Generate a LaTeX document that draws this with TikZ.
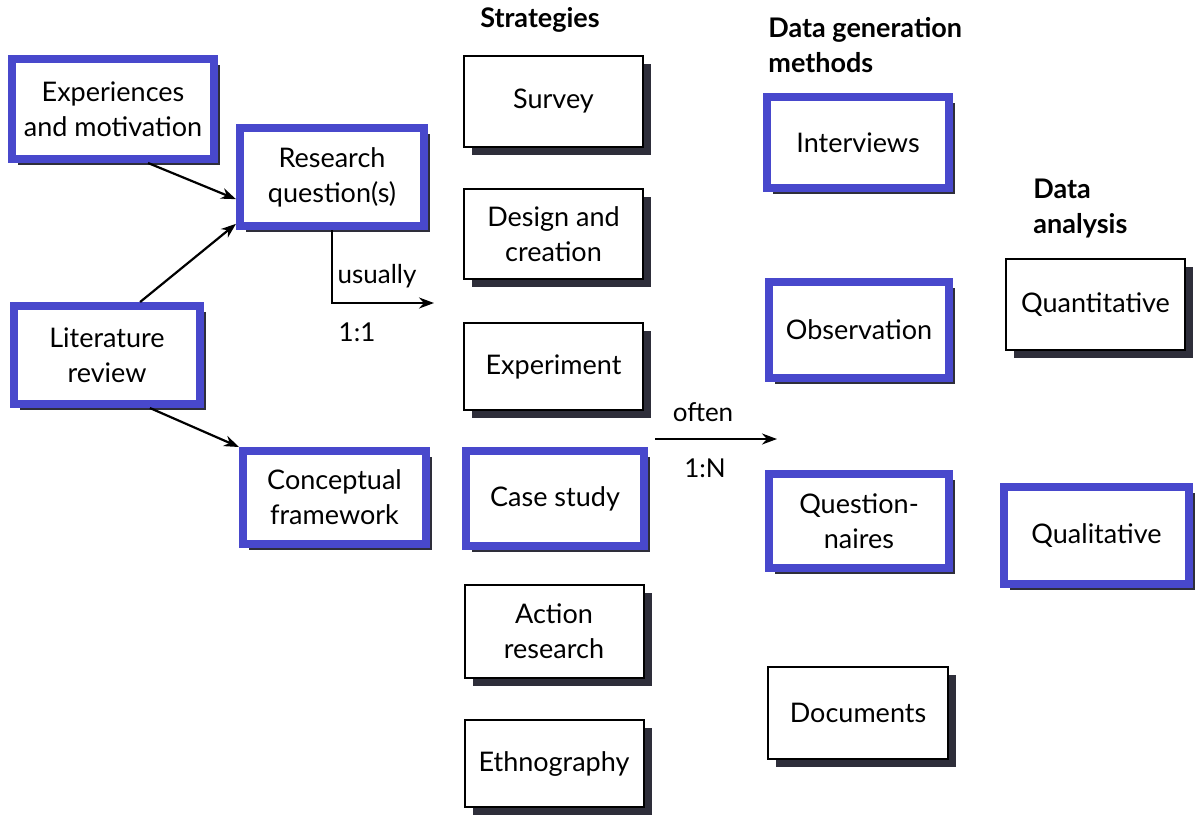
\documentclass[tikz,border=0pt]{standalone}
\usepackage{fontspec}
\setmainfont{Lato}
\usetikzlibrary{shadows,arrows.meta}
\definecolor{bbl}{RGB}{72,72,204}
\definecolor{shd}{RGB}{46,46,58}
\tikzset{
  txt/.style={font=\fontsize{13.5}{17.5}\selectfont, align=center, inner sep=0pt},
  bluebox/.style={txt, rectangle, draw=bbl, line width=4pt, fill=white,
    drop shadow={shadow xshift=3pt, shadow yshift=-3pt, fill=shd, opacity=1}},
  blackbox/.style={txt, rectangle, draw=black, line width=1pt, fill=white,
    drop shadow={shadow xshift=4pt, shadow yshift=-4pt, fill=shd, opacity=1}},
  head/.style={font=\fontsize{13.5}{17.5}\selectfont\bfseries, inner sep=0pt},
  lab/.style={font=\fontsize{13}{15}\selectfont, inner sep=0pt},
  arr/.style={line width=1.1pt, -{Stealth[length=7.5pt,width=5.5pt]}}
}
\begin{document}
\begin{tikzpicture}[x=0.5pt,y=-0.5pt]
\useasboundingbox[fill=white] (0,0) rectangle (1197,816);
% left column
\node[bluebox, minimum width=101pt, minimum height=50pt] (exp) at (113,109) {Experiences\\and motivation};
\node[bluebox, minimum width=92pt, minimum height=49pt] (rq) at (332,177) {Research\\question(s)};
\node[bluebox, minimum width=93pt, minimum height=49pt] (lit) at (107,355) {Literature\\review};
\node[bluebox, minimum width=91.5pt, minimum height=46.5pt] (cf) at (334.5,497.5) {Conceptual\\framework};
% strategies
\node[head] (hstr) at (540,20) {Strategies};
\node[blackbox, minimum width=89.5pt, minimum height=45.5pt] (survey) at (553.5,101.5) {Survey};
\node[blackbox, minimum width=89.5pt, minimum height=45pt] (design) at (553.5,234) {Design and\\creation};
\node[blackbox, minimum width=89.5pt, minimum height=43.5pt] (exper) at (553.5,366.5) {Experiment};
\node[bluebox, minimum width=89pt, minimum height=47.5pt] (case) at (555,498.5) {Case study};
\node[blackbox, minimum width=89.5pt, minimum height=46.5pt] (action) at (554,631.5) {Action\\research};
\node[blackbox, minimum width=89.5pt, minimum height=43.5pt] (ethno) at (554,763.5) {Ethnography};
% data generation methods
\node[head, anchor=west, align=left] (hdg) at (768,45) {Data generation\\methods};
\node[bluebox, minimum width=91pt, minimum height=45.5pt] (int) at (858,142.5) {Interviews};
\node[bluebox, minimum width=90pt, minimum height=48pt] (obs) at (859,330) {Observation};
\node[bluebox, minimum width=90pt, minimum height=47pt] (que) at (859,521) {Question-\\naires};
\node[blackbox, minimum width=90pt, minimum height=46pt] (docs) at (858,713) {Documents};
% data analysis
\node[head, anchor=west, align=left] (hda) at (1033,208) {Data\\analysis};
\node[blackbox, minimum width=89.5pt, minimum height=45.5pt] (quant) at (1095.5,304.5) {Quantitative};
\node[bluebox, minimum width=92.5pt, minimum height=48.5pt] (qual) at (1096.5,535.5) {Qualitative};
% connectors
\draw[arr] (exp.-57) -- (rq.193.5);
\draw[arr] (lit.58) -- (rq.206.6);
\draw[arr] (lit.-51) -- (cf.north west);
\coordinate (u) at (434,303);
\draw[arr] (rq.south) |- (u);
\node[lab] (usually) at (377,276) {usually};
\node[lab] (one) at (357,332) {1:1};
\coordinate (o1) at (655,439);
\coordinate (o2) at (777,439);
\draw[arr] (o1) -- (o2);
\node[lab] (often) at (703,412) {often};
\node[lab] (onen) at (705,468) {1:N};
\end{tikzpicture}
\end{document}
